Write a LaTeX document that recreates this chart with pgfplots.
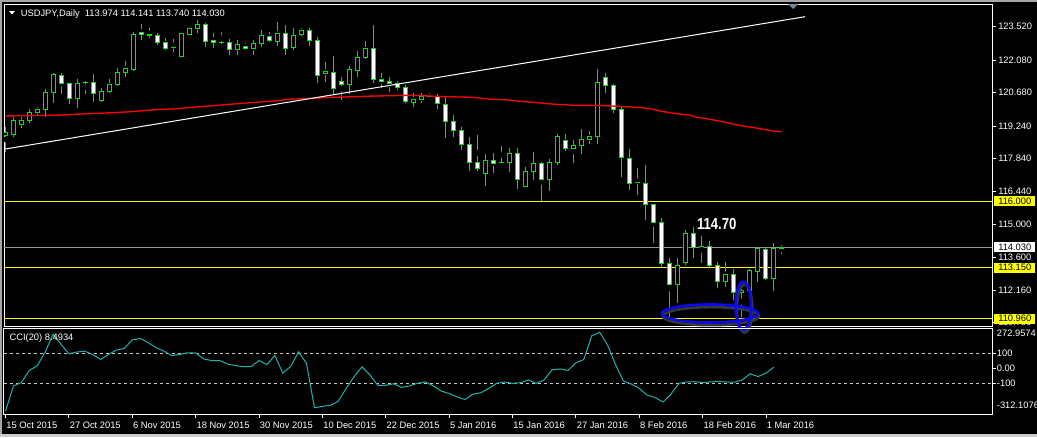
\documentclass[border=0pt]{standalone}
\usepackage{pgfplots}
\pgfplotsset{compat=1.18}
\usepackage{pgfplotstable}
\usepackage{fontspec}
\setmainfont{Liberation Sans}

\definecolor{mtgreen}{RGB}{0,230,0}
\definecolor{mtcci}{RGB}{32,178,170}
\definecolor{mtyellow}{RGB}{255,255,0}
\definecolor{mtgray}{RGB}{150,150,150}
\definecolor{mtdash}{RGB}{200,200,200}
\definecolor{mtblue}{RGB}{10,10,235}
\definecolor{mtshadow}{RGB}{55,55,55}
\definecolor{mtmarker}{RGB}{119,136,153}

% daily candles: bar index, open, high, low, close
\pgfplotstableread{
i o h l c
0 118.817 119.217 118.128 118.946
1 118.860 119.647 118.795 119.505
2 119.320 119.647 119.148 119.475
3 119.475 119.992 119.389 119.828
4 119.820 120.086 119.720 119.936
5 119.936 120.826 119.622 120.697
6 120.697 121.515 120.250 121.472
7 121.429 121.541 120.611 121.085
8 121.085 121.110 120.181 120.422
9 120.422 121.257 120.009 121.085
10 121.110 121.197 120.624 121.128
11 121.128 121.485 120.293 120.654
12 120.336 120.869 120.293 120.753
13 120.723 121.257 120.654 121.042
14 121.042 121.730 120.981 121.558
15 121.541 122.044 121.369 121.730
16 121.687 123.305 121.614 123.163
17 123.279 123.636 122.948 123.193
18 123.163 123.451 123.021 123.150
19 123.120 123.236 122.733 122.832
20 122.849 123.047 122.518 122.561
21 122.625 122.978 122.444 122.608
22 122.229 123.236 122.216 123.206
23 123.193 123.477 123.163 123.451
24 123.421 123.808 123.236 123.623
25 123.636 123.666 122.634 122.875
26 122.905 123.262 122.617 122.832
27 122.840 123.279 122.763 122.827
28 122.849 122.978 122.302 122.548
29 122.548 122.948 122.302 122.733
30 122.659 122.806 122.518 122.573
31 122.591 122.948 122.302 122.806
32 122.806 123.378 122.659 123.120
33 123.090 123.305 122.849 122.905
34 122.875 123.709 122.690 123.236
35 123.236 123.593 122.302 122.591
36 122.634 123.451 122.518 123.120
37 123.193 123.477 123.133 123.348
38 123.348 123.451 122.703 122.918
39 122.918 123.090 121.085 121.429
40 121.485 121.990 121.130 121.571
41 121.558 122.246 120.581 120.869
42 121.162 121.356 120.366 121.042
43 121.042 121.829 120.624 121.657
44 121.627 122.474 121.369 122.203
45 122.203 122.905 122.117 122.591
46 122.591 123.593 121.085 121.257
47 121.257 121.515 120.869 121.153
48 121.171 121.343 120.723 121.085
49 121.085 121.184 120.796 120.912
50 120.912 121.011 120.224 120.293
51 120.267 120.654 120.078 120.396
52 120.379 120.654 120.250 120.495
53 120.517 120.654 120.366 120.530
54 120.508 120.611 119.979 120.224
55 120.181 120.508 118.718 119.432
56 119.432 119.720 118.787 119.045
57 119.062 119.191 118.215 118.460
58 118.460 118.787 117.324 117.668
59 117.685 118.860 117.324 117.410
60 117.203 118.042 116.666 117.763
61 117.763 118.073 117.238 117.634
62 117.668 118.387 117.642 117.655
63 117.676 118.288 117.281 118.073
64 118.073 118.288 116.523 116.954
65 116.635 117.483 116.622 117.298
66 117.281 118.116 116.925 117.642
67 117.642 117.698 116.000 116.954
68 116.954 117.819 116.463 117.685
69 117.676 118.903 117.548 118.795
70 118.623 118.903 118.184 118.279
71 118.288 118.645 117.668 118.408
72 118.399 119.109 118.042 118.679
73 118.675 119.032 118.473 118.804
74 118.787 121.700 118.473 121.132
75 121.343 121.528 120.680 120.990
76 120.999 121.055 119.820 119.966
77 119.966 120.078 117.065 117.900
78 117.857 118.258 116.506 116.782
79 116.816 117.453 116.278 116.799
80 116.782 117.569 115.202 115.848
81 115.848 115.891 114.200 115.103
82 115.103 115.276 113.124 113.339
83 113.339 113.554 110.972 112.436
84 112.436 113.554 111.644 113.253
85 113.382 114.772 113.266 114.600
86 114.600 114.888 113.554 114.027
87 114.058 114.514 113.339 114.045
88 114.054 114.312 113.167 113.236
89 113.236 113.408 112.289 112.548
90 112.548 113.382 112.332 112.866
91 112.866 113.081 111.760 112.091
92 112.091 112.332 111.041 112.190
93 112.169 113.081 112.169 113.008
94 112.978 114.027 112.548 113.985
95 113.942 114.027 112.621 112.694
96 112.694 114.200 112.160 113.985
97 113.974 114.141 113.740 114.030
}\candles

% moving average (red)
\pgfplotstableread{
i ma
0 119.68
6.4 119.71
9.3 119.76
13.4 119.82
15.6 119.86
18.4 119.94
21.4 119.99
23.4 120.05
25.6 120.11
28.4 120.19
30.6 120.25
33.4 120.32
35.6 120.40
38.1 120.44
41 120.48
45.3 120.53
50.6 120.57
55 120.51
58.4 120.48
60.6 120.40
62.7 120.37
64.3 120.31
65.8 120.27
68.4 120.19
71 120.14
74.3 120.13
77.4 120.08
79.3 120.04
80.6 119.99
81.8 119.89
83 119.82
84.3 119.76
85.6 119.71
86.4 119.62
87.4 119.58
88.4 119.51
89.7 119.43
90.6 119.36
91.4 119.29
92.7 119.22
94 119.15
95.2 119.08
96 119.03
97 118.99
}\mavg

% CCI(20)
\pgfplotstableread{
j v
0 -293
1 -120
2 -97
3 -14
4 18
5 110
6 235
7 165
8 100
9 112
10 118
11 95
12 61
13 95
14 125
15 137
16 195
17 205
18 177
19 142
20 118
21 88
22 95
23 107
24 107
25 65
26 54
27 54
28 31
29 19
30 12
31 12
32 54
33 26
34 88
35 -32
36 14
37 114
38 33
39 -269
40 -260
41 -253
42 -225
43 -137
44 -56
45 10
46 -44
47 -116
48 -116
49 -105
50 -130
51 -120
52 -102
53 -93
54 -120
55 -155
56 -172
57 -195
58 -213
59 -176
60 -167
61 -137
62 -102
63 -93
64 -102
65 -98
66 -79
67 -102
68 -79
69 -9
70 -4
71 -14
72 38
73 61
74 223
75 247
76 160
77 26
78 -86
79 -107
80 -137
81 -183
82 -199
83 -230
84 -176
85 -102
86 -93
87 -91
88 -97
89 -92
90 -90
91 -93
92 -95
93 -79
94 -37
95 -56
96 -32
97 8.49
}\cci

\tikzset{
  mtfont/.style={font=\fontsize{7}{8}\selectfont},
  pricebox/.style={anchor=west, mtfont, text=black, inner xsep=2.25pt,
    inner ysep=0pt, minimum height=7.5pt, minimum width=30.75pt, xshift=1.5pt},
}
\pgfplotsset{
  mainax/.style={at={(3pt,83.25pt)}, anchor=south west, scale only axis,
    width=741pt, height=241.125pt,
    xmin=-0.1875, xmax=123.31, ymin=110.641, ymax=124.475},
}

\begin{document}
\begin{tikzpicture}
\fill[black] (0,0) rectangle (777.75pt,327.75pt);
\useasboundingbox (0,0) rectangle (777.75pt,327.75pt);
\fill[gray!70] (0,326.25pt) rectangle (777.75pt,327.75pt);
\fill[gray!70] (0,0) rectangle (1.5pt,327.75pt);
\fill[gray!40] (0,0) rectangle (777.75pt,2.25pt);

% price panel: frame, ticks, level lines, wicks
\begin{axis}[mainax,
  axis line style={white, line width=0.75pt},
  tick style={white, line width=0.75pt}, major tick length=3pt, tick align=outside,
  xtick=\empty,
  ytick={123.52,122.08,120.68,119.24,117.84,116.44,115,113.6,112.16,110.78},
  yticklabels={123.520,122.080,120.680,119.240,117.840,116.440,115.000,113.600,112.160,110.780},
  ytick pos=right, yticklabel pos=right,
  yticklabel style={white, mtfont, anchor=west, inner sep=0pt, xshift=1.5pt}]
\addplot [mtyellow, line width=0.75pt] coordinates {(-1,116) (125,116)};
\addplot [mtyellow, line width=0.75pt] coordinates {(-1,113.15) (125,113.15)};
\addplot [mtyellow, line width=0.75pt] coordinates {(-1,110.96) (125,110.96)};
\addplot [mtgray, line width=0.75pt] coordinates {(-1,114.03) (125,114.03)};
\addplot [only marks, mark=none,
  error bars/.cd, y dir=both, y explicit, error mark=none,
  error bar style={draw=mtgreen, line width=0.75pt}]
  table [x=i, y expr=(\thisrow{h}+\thisrow{l})/2, y error expr=(\thisrow{h}-\thisrow{l})/2] {\candles};
\end{axis}

% candle bodies
\begin{axis}[mainax, hide axis, ybar stacked, bar width=3pt]
\addplot [draw=none, fill=none] table [x=i, y expr={min(\thisrow{o},\thisrow{c})}] {\candles};
\addplot [draw=mtgreen, fill=white, line width=0.75pt]
  table [x=i, y expr={\thisrow{o}>\thisrow{c} ? \thisrow{o}-\thisrow{c} : 0}] {\candles};
\addplot [draw=mtgreen, fill=black, line width=0.75pt]
  table [x=i, y expr={\thisrow{c}>=\thisrow{o} ? \thisrow{c}-\thisrow{o} : 0}] {\candles};
\end{axis}

% indicator lines and annotations
\begin{axis}[mainax, hide axis, clip=false]
\addplot [red, line width=1pt] table [x=i, y=ma] {\mavg};
\addplot [white, line width=0.75pt] coordinates {(0,118.258) (99.94,123.950)};
\node[white, font=\bfseries\fontsize{12}{12}\selectfont] at (axis cs:88.9,115.03) {\scalebox{0.82}[1]{114.70}};
\draw[mtshadow, line width=2pt] ([xshift=1pt,yshift=-2pt]axis cs:88.03,111.18) ellipse [x radius=36pt, y radius=6.75pt];
\draw[mtshadow, line width=2pt] ([xshift=1pt,yshift=-2pt]axis cs:92.22,111.51) ellipse [x radius=5.8pt, y radius=18pt];
\draw[mtblue, line width=2pt] (axis cs:88.03,111.18) ellipse [x radius=36pt, y radius=6.75pt];
\draw[mtblue, line width=2pt] (axis cs:92.22,111.51) ellipse [x radius=5.8pt, y radius=18pt];
\node[pricebox, fill=mtyellow] at (axis cs:123.31,116) {116.000};
\node[pricebox, fill=white] at (axis cs:123.31,114.03) {114.030};
\node[pricebox, fill=mtyellow] at (axis cs:123.31,113.15) {113.150};
\node[pricebox, fill=mtyellow] at (axis cs:123.31,110.96) {110.960};
\end{axis}

% CCI panel
\begin{axis}[at={(3pt,17.25pt)}, anchor=south west, scale only axis,
  width=741pt, height=64.125pt,
  xmin=-0.19, xmax=124.53, ymin=-312.1076, ymax=272.9574,
  axis line style={white, line width=0.75pt},
  tick style={white, line width=0.75pt}, major tick length=3pt, tick align=outside,
  ytick={100,0,-100}, yticklabels={100,0.00,-100},
  ytick pos=right, yticklabel pos=right,
  yticklabel style={white, mtfont, anchor=west, inner sep=0pt, xshift=0.5pt},
  xtick={0,8,...,96},
  xticklabels={15 Oct 2015,27 Oct 2015,6 Nov 2015,18 Nov 2015,30 Nov 2015,10 Dec 2015,22 Dec 2015,5 Jan 2016,15 Jan 2016,27 Jan 2016,8 Feb 2016,18 Feb 2016,1 Mar 2016},
  xtick pos=bottom,
  xticklabel style={white, mtfont, anchor=base west, inner sep=0pt, yshift=-8pt, xshift=0.5pt}]
\addplot [mtdash, line width=0.75pt, dash pattern=on 2.25pt off 2.25pt] coordinates {(-1,100) (126,100)};
\addplot [mtdash, line width=0.75pt, dash pattern=on 2.25pt off 2.25pt] coordinates {(-1,-100) (126,-100)};
\addplot [mtcci, line width=0.75pt] table [x=j, y=v] {\cci};
\end{axis}

% labels
\fill[white] (6.75pt,319.5pt) -- (11.25pt,319.5pt) -- (9pt,316.9pt) -- cycle;
\node[white, mtfont, anchor=base west, inner sep=0pt] at (15.4pt,315.75pt) {USDJPY,Daily\ \ 113.974 114.141 113.740 114.030};
\fill[mtmarker] (591pt,324.75pt) -- (598.5pt,324.75pt) -- (594.75pt,321pt) -- cycle;
\node[white, mtfont, anchor=base west, inner sep=0pt] at (7pt,72.2pt) {CCI(20) 8.4934};
\node[white, mtfont, anchor=west, inner sep=0pt] at (747.5pt,77.8pt) {272.9574};
\node[white, mtfont, anchor=west, inner sep=0pt] at (747.5pt,24pt) {-312.1076};
\end{tikzpicture}
\end{document}
